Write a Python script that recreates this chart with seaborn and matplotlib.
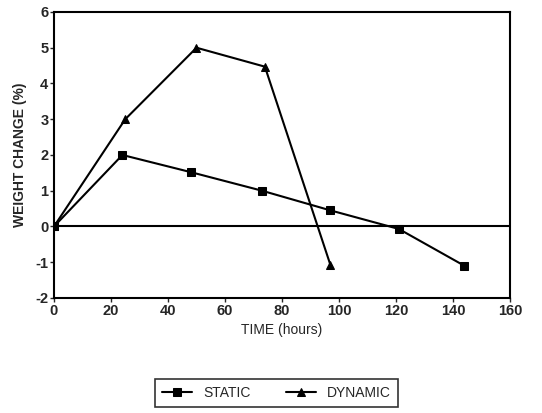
import matplotlib
matplotlib.use("Agg")
import matplotlib.pyplot as plt
import seaborn as sns
import pandas as pd

static_time = [0, 24, 48, 73, 97, 121, 144]
static_change = [0.0, 2.0, 1.52, 1.0, 0.45, -0.07, -1.1]
dynamic_time = [0, 25, 50, 74, 97]
dynamic_change = [0.0, 3.0, 5.0, 4.47, -1.08]
x_ticks = [0, 20, 40, 60, 80, 100, 120, 140, 160]
y_ticks = [-2, -1, 0, 1, 2, 3, 4, 5, 6]

sns.set_style("ticks")
plt.rcParams['font.family'] = ['Liberation Sans', 'DejaVu Sans']
plt.rcParams['axes.unicode_minus'] = False

df_s = pd.DataFrame({"t": static_time, "w": static_change})
df_d = pd.DataFrame({"t": dynamic_time, "w": dynamic_change})

fig = plt.figure(figsize=(5.42, 4.13), dpi=100)
ax = fig.add_axes([0.0996, 0.2785, 0.8414, 0.6925])

ax.axhline(0, color="black", lw=1.5, zorder=1)
sns.lineplot(data=df_s, x="t", y="w", ax=ax, color="black", lw=1.5,
             marker="s", markersize=5.5, markeredgecolor="black", label="STATIC")
sns.lineplot(data=df_d, x="t", y="w", ax=ax, color="black", lw=1.5,
             marker="^", markersize=5.5, markeredgecolor="black", label="DYNAMIC")

ax.set_xlim(0, 160)
ax.set_ylim(-2, 6)
ax.set_xticks(x_ticks)
ax.set_yticks(y_ticks)
ax.tick_params(direction="out", length=3, width=1, labelsize=10.5, pad=1)
for lbl in ax.get_xticklabels() + ax.get_yticklabels():
    lbl.set_fontweight("bold")
for sp in ax.spines.values():
    sp.set_visible(True)
    sp.set_linewidth(1.5)
    sp.set_color("black")

ax.set_xlabel("TIME (hours)", fontsize=10, labelpad=4)
ax.set_ylabel("WEIGHT CHANGE (%)", fontsize=10, fontweight="bold", labelpad=6)

ax.legend_.remove()
h, l = ax.get_legend_handles_labels()
leg = fig.legend(h, l, loc="center", bbox_to_anchor=(0.51, 0.048), ncol=2,
                 frameon=True, fancybox=False, edgecolor="black", fontsize=10,
                 handlelength=2.2, columnspacing=2.5, borderpad=0.5)
leg.get_frame().set_linewidth(1.2)

fig.savefig("out.png", dpi=100)
